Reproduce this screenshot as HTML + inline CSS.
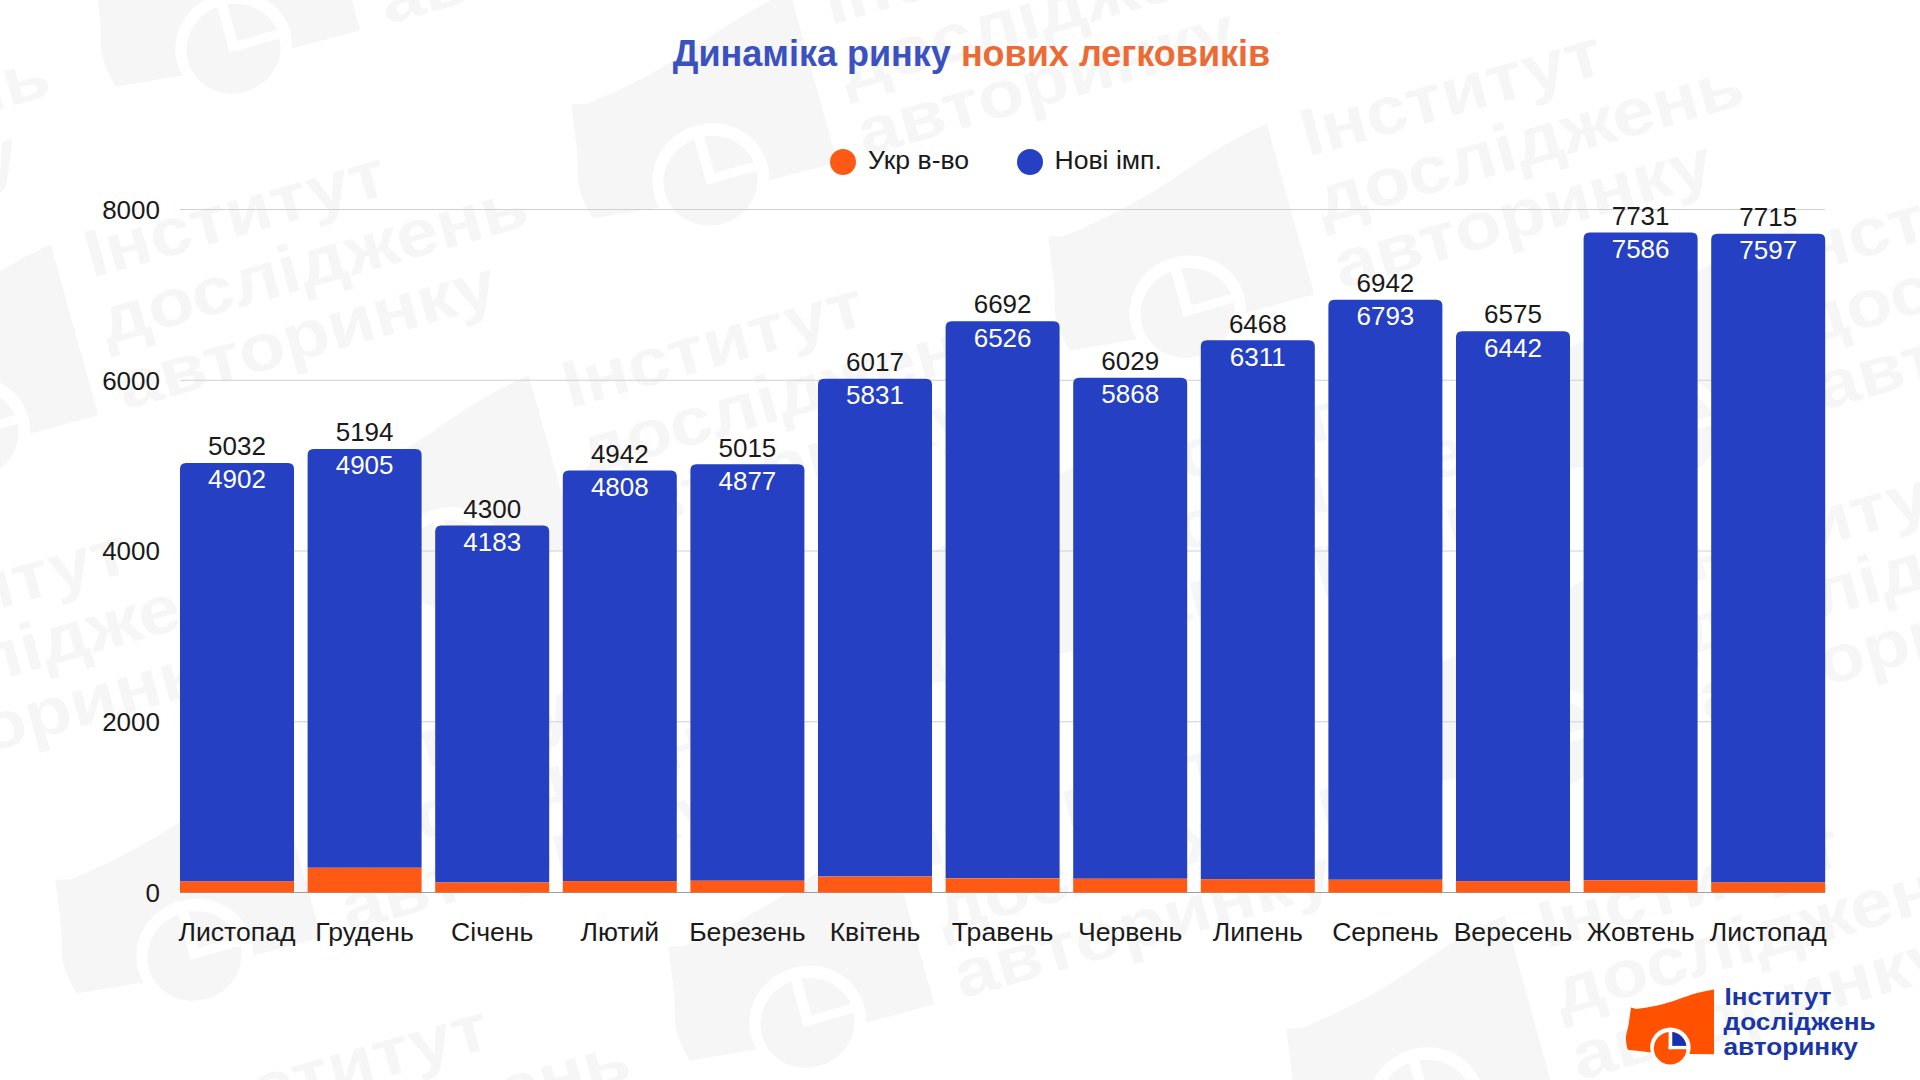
<!DOCTYPE html>
<html><head><meta charset="utf-8"><style>
html,body{margin:0;padding:0;width:1920px;height:1080px;overflow:hidden;background:#fff;}
body{position:relative;font-family:"Liberation Sans",sans-serif;}
svg{position:absolute;left:0;top:0;}
.t{font-family:"Liberation Sans",sans-serif;font-size:26px;fill:#1a1a1a;}
.w{fill:#fff;}
.title{position:absolute;left:0;width:1943px;text-align:center;top:33.1px;font-size:36px;font-weight:bold;color:#3a51bf;white-space:nowrap;}
.title span{color:#ec6b35;}
.leg{position:absolute;top:144.5px;font-size:26.6px;color:#1a1a1a;white-space:nowrap;}
.dot{position:absolute;width:26px;height:26px;border-radius:50%;}
.logo{position:absolute;left:1725px;top:986px;font-size:22px;line-height:22.5px;font-weight:bold;color:#1b3aa6;}
</style></head><body>
<svg width="1920" height="1080" viewBox="0 0 1920 1080" style="position:absolute;left:0;top:0"><defs><g id="wm">
<path d="M1631,1007.6 L1634.5,1008.4 L1636,1009 C1652,1007 1662,1004.5 1672,1001.5 C1686,997 1695,992.5 1714,989.6 L1714,1054.3 L1690,1054 L1652,1052.6 L1627.8,1049.8 C1626.4,1046 1625.8,1041 1626,1036.5 C1626.4,1033 1627.6,1030 1628.3,1026 C1629.4,1020 1630,1014 1631,1007.6 Z" fill="#f6f6f6"/>
<circle cx="1670.4" cy="1047.6" r="20.2" fill="#fff"/>
<circle cx="1670.2" cy="1048.2" r="16.3" fill="#f6f6f6"/>
<rect x="1668.6" y="1031" width="3.6" height="18.2" fill="#fff"/>
<rect x="1668.6" y="1045.9" width="19" height="3.3" fill="#fff"/>
<g font-family="Liberation Sans, sans-serif" font-weight="bold" font-size="24.5" fill="#f6f6f6">
<text x="1724.5" y="1005.4" textLength="107" lengthAdjust="spacingAndGlyphs">Інститут</text>
<text x="1723.6" y="1030.4" textLength="152" lengthAdjust="spacingAndGlyphs">досліджень</text>
<text x="1723.4" y="1055" textLength="134.5" lengthAdjust="spacingAndGlyphs">авторинку</text>
</g></g></defs><use href="#wm" transform="translate(-1694.0,-9.5) matrix(2.7912,-0.7904,0.7337,2.6372,-4243.42,-1131.40)"/>
<use href="#wm" transform="translate(-954.0,-264.1) matrix(2.7912,-0.7904,0.7337,2.6372,-4243.42,-1131.40)"/>
<use href="#wm" transform="translate(-477.0,-132.1) matrix(2.7912,-0.7904,0.7337,2.6372,-4243.42,-1131.40)"/>
<use href="#wm" transform="translate(0.0,0.0) matrix(2.7912,-0.7904,0.7337,2.6372,-4243.42,-1131.40)"/>
<use href="#wm" transform="translate(482.0,121.5) matrix(2.7912,-0.7904,0.7337,2.6372,-4243.42,-1131.40)"/>
<use href="#wm" transform="translate(-1216.0,121.1) matrix(2.7912,-0.7904,0.7337,2.6372,-4243.42,-1131.40)"/>
<use href="#wm" transform="translate(-738.0,251.5) matrix(2.7912,-0.7904,0.7337,2.6372,-4243.42,-1131.40)"/>
<use href="#wm" transform="translate(-188.0,341.5) matrix(2.7912,-0.7904,0.7337,2.6372,-4243.42,-1131.40)"/>
<use href="#wm" transform="translate(364.0,431.5) matrix(2.7912,-0.7904,0.7337,2.6372,-4243.42,-1131.40)"/>
<use href="#wm" transform="translate(-1474.0,498.5) matrix(2.7912,-0.7904,0.7337,2.6372,-4243.42,-1131.40)"/>
<use href="#wm" transform="translate(-993.0,643.1) matrix(2.7912,-0.7904,0.7337,2.6372,-4243.42,-1131.40)"/>
<use href="#wm" transform="translate(-380.0,710.1) matrix(2.7912,-0.7904,0.7337,2.6372,-4243.42,-1131.40)"/>
<use href="#wm" transform="translate(238.0,791.9) matrix(2.7912,-0.7904,0.7337,2.6372,-4243.42,-1131.40)"/>
<use href="#wm" transform="translate(-1113.5,974.5) matrix(2.7912,-0.7904,0.7337,2.6372,-4243.42,-1131.40)"/></svg>
<div class="title">Динаміка ринку <span>нових легковиків</span></div>
<div class="dot" style="left:830px;top:149px;background:#fe5a16"></div>
<div class="leg" style="left:868px">Укр в-во</div>
<div class="dot" style="left:1017px;top:149px;background:#2540c2"></div>
<div class="leg" style="left:1054.5px">Нові імп.</div>
<svg width="1920" height="1080" viewBox="0 0 1920 1080">
<line x1="180" x2="1825" y1="892.50" y2="892.50" stroke="#a0a0a0" stroke-width="1"/>
<text x="160" y="901.90" text-anchor="end" class="t">0</text>
<line x1="180" x2="1825" y1="721.75" y2="721.75" stroke="#d0d0d0" stroke-width="1"/>
<text x="160" y="731.15" text-anchor="end" class="t">2000</text>
<line x1="180" x2="1825" y1="551.00" y2="551.00" stroke="#d0d0d0" stroke-width="1"/>
<text x="160" y="560.40" text-anchor="end" class="t">4000</text>
<line x1="180" x2="1825" y1="380.25" y2="380.25" stroke="#d0d0d0" stroke-width="1"/>
<text x="160" y="389.65" text-anchor="end" class="t">6000</text>
<line x1="180" x2="1825" y1="209.50" y2="209.50" stroke="#d0d0d0" stroke-width="1"/>
<text x="160" y="218.90" text-anchor="end" class="t">8000</text>
<path d="M180.00,881.40 V468.89 Q180.00,462.89 186.00,462.89 H288.00 Q294.00,462.89 294.00,468.89 V881.40 Z" fill="#2540c2"/>
<rect x="180.00" y="881.40" width="114.0" height="11.10" fill="#fe5a16"/>
<text x="237.00" y="455.19" text-anchor="middle" class="t">5032</text>
<text x="237.00" y="488.29" text-anchor="middle" class="t w">4902</text>
<text x="237.00" y="941.3" text-anchor="middle" class="t" style="font-size:26.6px">Листопад</text>
<path d="M307.60,867.83 V455.06 Q307.60,449.06 313.60,449.06 H415.60 Q421.60,449.06 421.60,455.06 V867.83 Z" fill="#2540c2"/>
<rect x="307.60" y="867.83" width="114.0" height="24.67" fill="#fe5a16"/>
<text x="364.60" y="441.36" text-anchor="middle" class="t">5194</text>
<text x="364.60" y="474.46" text-anchor="middle" class="t w">4905</text>
<text x="364.60" y="941.3" text-anchor="middle" class="t" style="font-size:26.6px">Грудень</text>
<path d="M435.20,882.51 V531.39 Q435.20,525.39 441.20,525.39 H543.20 Q549.20,525.39 549.20,531.39 V882.51 Z" fill="#2540c2"/>
<rect x="435.20" y="882.51" width="114.0" height="9.99" fill="#fe5a16"/>
<text x="492.20" y="517.69" text-anchor="middle" class="t">4300</text>
<text x="492.20" y="550.79" text-anchor="middle" class="t w">4183</text>
<text x="492.20" y="941.3" text-anchor="middle" class="t" style="font-size:26.6px">Січень</text>
<path d="M562.80,881.06 V476.58 Q562.80,470.58 568.80,470.58 H670.80 Q676.80,470.58 676.80,476.58 V881.06 Z" fill="#2540c2"/>
<rect x="562.80" y="881.06" width="114.0" height="11.44" fill="#fe5a16"/>
<text x="619.80" y="462.88" text-anchor="middle" class="t">4942</text>
<text x="619.80" y="495.98" text-anchor="middle" class="t w">4808</text>
<text x="619.80" y="941.3" text-anchor="middle" class="t" style="font-size:26.6px">Лютий</text>
<path d="M690.40,880.72 V470.34 Q690.40,464.34 696.40,464.34 H798.40 Q804.40,464.34 804.40,470.34 V880.72 Z" fill="#2540c2"/>
<rect x="690.40" y="880.72" width="114.0" height="11.78" fill="#fe5a16"/>
<text x="747.40" y="456.64" text-anchor="middle" class="t">5015</text>
<text x="747.40" y="489.74" text-anchor="middle" class="t w">4877</text>
<text x="747.40" y="941.3" text-anchor="middle" class="t" style="font-size:26.6px">Березень</text>
<path d="M818.00,876.62 V384.80 Q818.00,378.80 824.00,378.80 H926.00 Q932.00,378.80 932.00,384.80 V876.62 Z" fill="#2540c2"/>
<rect x="818.00" y="876.62" width="114.0" height="15.88" fill="#fe5a16"/>
<text x="875.00" y="371.10" text-anchor="middle" class="t">6017</text>
<text x="875.00" y="404.20" text-anchor="middle" class="t w">5831</text>
<text x="875.00" y="941.3" text-anchor="middle" class="t" style="font-size:26.6px">Квітень</text>
<path d="M945.60,878.33 V327.17 Q945.60,321.17 951.60,321.17 H1053.60 Q1059.60,321.17 1059.60,327.17 V878.33 Z" fill="#2540c2"/>
<rect x="945.60" y="878.33" width="114.0" height="14.17" fill="#fe5a16"/>
<text x="1002.60" y="313.47" text-anchor="middle" class="t">6692</text>
<text x="1002.60" y="346.57" text-anchor="middle" class="t w">6526</text>
<text x="1002.60" y="941.3" text-anchor="middle" class="t" style="font-size:26.6px">Травень</text>
<path d="M1073.20,878.75 V383.77 Q1073.20,377.77 1079.20,377.77 H1181.20 Q1187.20,377.77 1187.20,383.77 V878.75 Z" fill="#2540c2"/>
<rect x="1073.20" y="878.75" width="114.0" height="13.75" fill="#fe5a16"/>
<text x="1130.20" y="370.07" text-anchor="middle" class="t">6029</text>
<text x="1130.20" y="403.17" text-anchor="middle" class="t w">5868</text>
<text x="1130.20" y="941.3" text-anchor="middle" class="t" style="font-size:26.6px">Червень</text>
<path d="M1200.80,879.10 V346.29 Q1200.80,340.29 1206.80,340.29 H1308.80 Q1314.80,340.29 1314.80,346.29 V879.10 Z" fill="#2540c2"/>
<rect x="1200.80" y="879.10" width="114.0" height="13.40" fill="#fe5a16"/>
<text x="1257.80" y="332.59" text-anchor="middle" class="t">6468</text>
<text x="1257.80" y="365.69" text-anchor="middle" class="t w">6311</text>
<text x="1257.80" y="941.3" text-anchor="middle" class="t" style="font-size:26.6px">Липень</text>
<path d="M1328.40,879.78 V305.83 Q1328.40,299.83 1334.40,299.83 H1436.40 Q1442.40,299.83 1442.40,305.83 V879.78 Z" fill="#2540c2"/>
<rect x="1328.40" y="879.78" width="114.0" height="12.72" fill="#fe5a16"/>
<text x="1385.40" y="292.13" text-anchor="middle" class="t">6942</text>
<text x="1385.40" y="325.23" text-anchor="middle" class="t w">6793</text>
<text x="1385.40" y="941.3" text-anchor="middle" class="t" style="font-size:26.6px">Серпень</text>
<path d="M1456.00,881.15 V337.16 Q1456.00,331.16 1462.00,331.16 H1564.00 Q1570.00,331.16 1570.00,337.16 V881.15 Z" fill="#2540c2"/>
<rect x="1456.00" y="881.15" width="114.0" height="11.35" fill="#fe5a16"/>
<text x="1513.00" y="323.46" text-anchor="middle" class="t">6575</text>
<text x="1513.00" y="356.56" text-anchor="middle" class="t w">6442</text>
<text x="1513.00" y="941.3" text-anchor="middle" class="t" style="font-size:26.6px">Вересень</text>
<path d="M1583.60,880.12 V238.47 Q1583.60,232.47 1589.60,232.47 H1691.60 Q1697.60,232.47 1697.60,238.47 V880.12 Z" fill="#2540c2"/>
<rect x="1583.60" y="880.12" width="114.0" height="12.38" fill="#fe5a16"/>
<text x="1640.60" y="224.77" text-anchor="middle" class="t">7731</text>
<text x="1640.60" y="257.87" text-anchor="middle" class="t w">7586</text>
<text x="1640.60" y="941.3" text-anchor="middle" class="t" style="font-size:26.6px">Жовтень</text>
<path d="M1711.20,882.43 V239.83 Q1711.20,233.83 1717.20,233.83 H1819.20 Q1825.20,233.83 1825.20,239.83 V882.43 Z" fill="#2540c2"/>
<rect x="1711.20" y="882.43" width="114.0" height="10.07" fill="#fe5a16"/>
<text x="1768.20" y="226.13" text-anchor="middle" class="t">7715</text>
<text x="1768.20" y="259.23" text-anchor="middle" class="t w">7597</text>
<text x="1768.20" y="941.3" text-anchor="middle" class="t" style="font-size:26.6px">Листопад</text>
</svg>

<svg width="1920" height="1080" viewBox="0 0 1920 1080" style="position:absolute;left:0;top:0">
<path d="M1631,1007.6 L1634.5,1008.4 L1636,1009 C1652,1007 1662,1004.5 1672,1001.5 C1686,997 1695,992.5 1714,989.6 L1714,1054.3 L1690,1054 L1652,1052.6 L1627.8,1049.8 C1626.4,1046 1625.8,1041 1626,1036.5 C1626.4,1033 1627.6,1030 1628.3,1026 C1629.4,1020 1630,1014 1631,1007.6 Z" fill="#ff5100"/>
<circle cx="1670.4" cy="1047.6" r="20.2" fill="#fff"/>
<circle cx="1670.2" cy="1048.2" r="16.3" fill="#ff5100"/>
<path d="M1672.2,1045.9 L1672.2,1032.0 A16.3,16.3 0 0 1 1686.3,1045.9 Z" fill="#1431b4"/>
<rect x="1668.6" y="1031" width="3.6" height="18.2" fill="#fff"/>
<rect x="1668.6" y="1045.9" width="19" height="3.3" fill="#fff"/>
</svg>
<svg width="1920" height="1080" viewBox="0 0 1920 1080" style="position:absolute;left:0;top:0">
<g font-family="Liberation Sans, sans-serif" font-weight="bold" font-size="24.5" fill="#1a36a6">
<text x="1724.5" y="1005.4" textLength="107" lengthAdjust="spacingAndGlyphs">Інститут</text>
<text x="1723.6" y="1030.4" textLength="152" lengthAdjust="spacingAndGlyphs">досліджень</text>
<text x="1723.4" y="1055" textLength="134.5" lengthAdjust="spacingAndGlyphs">авторинку</text>
</g></svg>
</body></html>
